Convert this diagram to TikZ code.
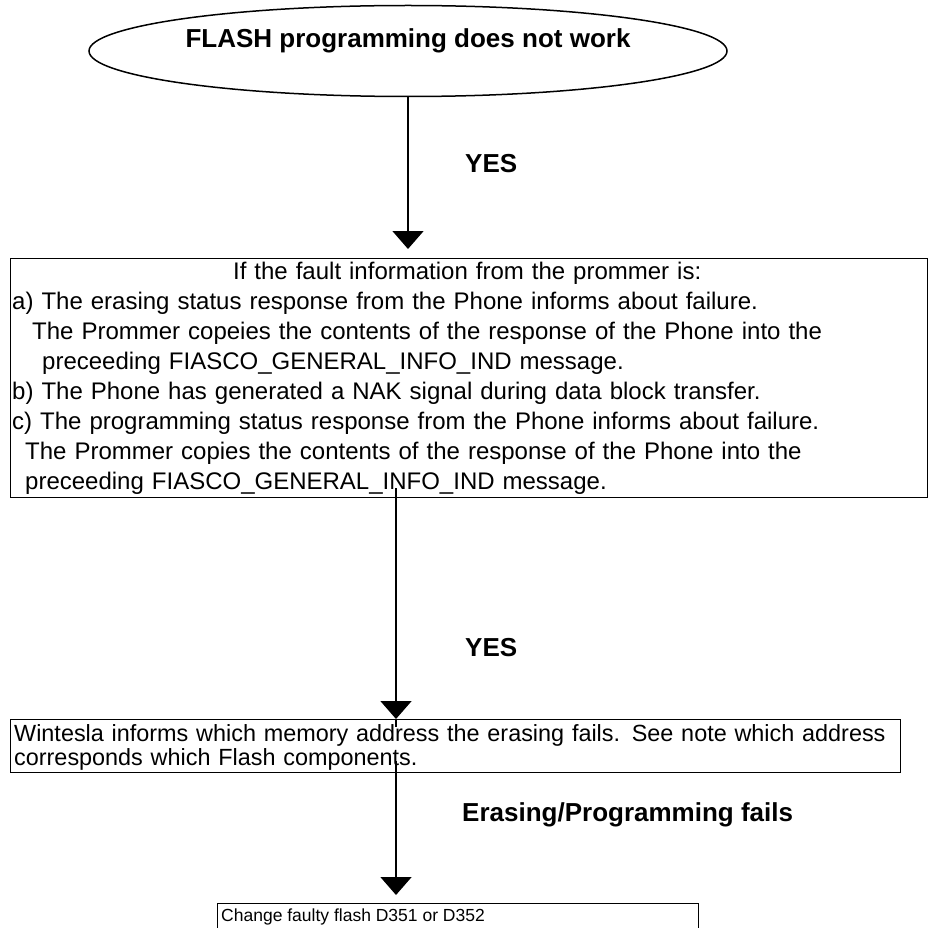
\documentclass[tikz,border=0pt]{standalone}
\usepackage{fontspec}
\setmainfont{Liberation Sans}
\usetikzlibrary{shapes.geometric,arrows.meta}
\begin{document}
\begin{tikzpicture}[x=1pt,y=-1pt,
  every node/.style={inner sep=0pt},
  body/.style={font=\fontsize{24}{30}\selectfont},
  lbl/.style={font=\fontsize{26}{30}\selectfont\bfseries, anchor=west},
  frame/.style={draw, line width=1.4pt, anchor=north west},
  flow/.style={line width=1.6pt, -{Triangle[width=31pt,length=18pt]}}
]
\useasboundingbox (0,0) rectangle (928,928);
\clip (0,0) rectangle (928,928);

% start terminal
\node[ellipse, draw, line width=1.5pt, minimum width=638pt, minimum height=91pt] (start) at (408,51) {};
\node[lbl, anchor=center] (title) at (408,41) {FLASH programming does not work};

% fault description box
\node[frame, minimum width=917pt, minimum height=239pt] (box1) at (10,258) {};
\node[body, anchor=north west, text width=910pt, align=left] (t1) at (12,262) {%
\makebox[\linewidth]{If the fault information from the prommer is:}\\
a) The erasing status response from the Phone informs about failure.\\
\hspace*{20pt}The Prommer copeies the contents of the response of the Phone into the\\
\hspace*{30pt}preceeding FIASCO\_GENERAL\_INFO\_IND message.\\
b) The Phone has generated a NAK signal during data block transfer.\\
c) The programming status response from the Phone informs about failure.\\
\hspace*{13pt}The Prommer copies the contents of the response of the Phone into the\\
\hspace*{13pt}preceeding FIASCO\_GENERAL\_INFO\_IND message.};

% Wintesla box
\node[frame, minimum width=890pt, minimum height=53pt] (box2) at (10,719) {};
\node[anchor=north west, text width=882pt, align=left, font=\fontsize{23.4}{24.5}\selectfont] (t2) at ([shift={(4,5)}]box2.north west) {%
Wintesla informs which memory address the erasing fails. See note which address\\
corresponds which Flash components.};

% final action box
\node[frame, minimum width=481pt, minimum height=60pt] (box3) at (217,903) {};
\node[anchor=north west, font=\fontsize{17.5}{20}\selectfont] (t3) at ([shift={(4,6)}]box3.north west) {Change faulty flash D351 or D352};

% connectors
\coordinate (spine) at (396,0);
\draw[flow, shorten >=9pt] (start.south) -- (start.south |- box1.north);
\draw[flow, shorten <=-10pt] (box1.south -| spine) -- (box2.north -| spine);
\draw[line width=1.6pt] (box2.north -| spine) -- ++(0,8);
\draw[flow, shorten <=-12pt, shorten >=8pt] (box2.south -| spine) -- (box3.north -| spine);

% branch labels
\node[lbl] (yes1) at (465,164) {YES};
\node[lbl] (yes2) at (465,648) {YES};
\node[lbl] (fails) at (462,815) {Erasing/Programming fails};
\end{tikzpicture}
\end{document}
